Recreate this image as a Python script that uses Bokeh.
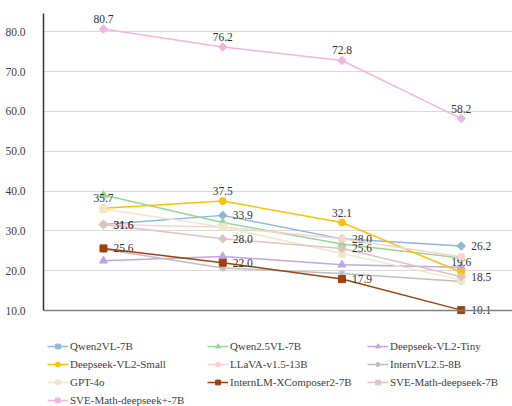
import numpy as np
from bokeh.plotting import figure
from bokeh.layouts import column
from bokeh.models import ColumnDataSource, Range1d, FixedTicker, Legend, LegendItem
from bokeh.core.properties import value
from bokeh.embed import file_html
from bokeh.resources import INLINE

categories = ["0.1", "0.3", "0.5", "0.8"]
y_ticks = [10, 20, 30, 40, 50, 60, 70, 80]

names = ["Qwen2VL-7B", "Qwen2.5VL-7B", "Deepseek-VL2-Tiny",
         "Deepseek-VL2-Small", "LLaVA-v1.5-13B", "InternVL2.5-8B",
         "GPT-4o", "InternLM-XComposer2-7B", "SVE-Math-deepseek-7B",
         "SVE-Math-deepseek+-7B"]

qwen2vl = [31.6, 33.9, 28.0, 26.2]
qwen25vl = [39.0, 32.1, 26.7, 23.2]
ds_tiny = [22.5, 23.6, 21.5, 20.9]
ds_small = [35.7, 37.5, 32.1, 19.6]
llava = [31.6, 31.0, 28.0, 23.5]
internvl = [25.4, 20.7, 19.3, 17.3]
gpt4o = [35.5, 31.0, 24.3, 17.7]
internlm = [25.6, 22.0, 17.9, 10.1]
sve7b = [31.6, 28.0, 25.6, 18.5]
sveplus = [80.7, 76.2, 72.8, 58.2]

values = [qwen2vl, qwen25vl, ds_tiny, ds_small, llava, internvl,
          gpt4o, internlm, sve7b, sveplus]
colors = ["#8DB8DE", "#98D698", "#C3A6E0", "#FFC000", "#F9D3CC",
          "#BFBFBF", "#EEE8CC", "#A0410D", "#DCC4C1", "#F2B5E0"]
markers = ["square", "triangle", "triangle", "circle", "circle",
           "asterisk", "square", "square", "square", "square"]
angles = [np.pi / 4, 0, 0, 0, 0, 0, 0, 0, np.pi / 4, np.pi / 4]
sizes = [6, 8, 8, 7, 7, 7, 7, 7, 6, 6]
label_pos = ["right", None, None, "above", None, None, None,
             "right", "right", "above"]

FONT = "Liberation Serif"
Y_MIN, Y_MAX = 10, 84.6

xs = list(range(len(categories)))

p = figure(width=512, height=340, output_backend="svg", toolbar_location=None,
           x_range=Range1d(-0.503, 3.43), y_range=Range1d(8.0, Y_MAX),
           min_border_left=43, min_border_right=0, min_border_top=13,
           min_border_bottom=22)
p.outline_line_color = None
p.background_fill_color = "white"

p.xgrid.grid_line_color = None
p.ygrid.grid_line_color = "#D9D9D9"
p.ygrid.grid_line_width = 1

p.yaxis.ticker = FixedTicker(ticks=y_ticks)
p.yaxis.major_label_overrides = {t: f"{t:.1f}" for t in y_ticks}
p.yaxis.bounds = (Y_MIN, Y_MAX)
p.yaxis.major_tick_line_color = None
p.yaxis.minor_tick_line_color = None
p.yaxis.major_label_standoff = 12
p.yaxis.axis_line_color = "#333333"
p.yaxis.axis_line_width = 1.5
p.yaxis.major_label_text_font = FONT
p.yaxis.major_label_text_font_size = "11.5px"
p.yaxis.major_label_text_color = "#404040"

p.xaxis.ticker = FixedTicker(ticks=xs)
p.xaxis.fixed_location = Y_MIN
p.xaxis.major_label_overrides = {i: c for i, c in enumerate(categories)}
p.xaxis.major_tick_line_color = None
p.xaxis.minor_tick_line_color = None
p.xaxis.major_label_standoff = 8
p.xaxis.axis_line_color = "#808080"
p.xaxis.axis_line_width = 1.5
p.xaxis.major_label_text_font = FONT
p.xaxis.major_label_text_font_size = "11.5px"
p.xaxis.major_label_text_color = "#404040"

# legend figure (same sources, kept outside its visible range)
lg = figure(width=512, height=66, output_backend="svg", toolbar_location=None,
            x_axis_type=None, y_axis_type=None,
            x_range=Range1d(0, 1), y_range=Range1d(0, 1),
            min_border=0)
lg.outline_line_color = None
lg.xgrid.grid_line_color = None
lg.ygrid.grid_line_color = None

items = []
for name, vals, col, mk, ang, sz, lp in zip(names, values, colors, markers,
                                            angles, sizes, label_pos):
    src = ColumnDataSource(dict(x=xs, y=vals, t=[f"{v:.1f}" for v in vals]))
    lw = 1.5 if mk == "asterisk" else 1
    p.line("x", "y", source=src, line_color=col, line_width=1.5)
    p.scatter("x", "y", source=src, marker=mk, size=sz, angle=ang,
              fill_color=col, line_color=col, line_width=lw)
    if lp == "above":
        p.text("x", "y", text="t", source=src, text_align="center",
               text_baseline="bottom", y_offset=-6,
               text_font=value(FONT), text_font_size="11.5px",
               text_color="#333333")
    elif lp == "right":
        p.text("x", "y", text="t", source=src, text_align="left",
               text_baseline="middle", x_offset=10,
               text_font=value(FONT), text_font_size="11.5px",
               text_color="#333333")
    l2 = lg.line("x", "y", source=src, line_color=col, line_width=1.5)
    s2 = lg.scatter("x", "y", source=src, marker=mk, size=sz, angle=ang,
                    fill_color=col, line_color=col, line_width=lw)
    items.append(LegendItem(label=name, renderers=[l2, s2]))

legend = Legend(items=items, ncols=3, orientation="horizontal",
                location=(4, 0), margin=0, padding=0, spacing=6,
                glyph_width=21, glyph_height=12, label_height=12,
                label_width=131, label_standoff=2,
                label_text_font=FONT, label_text_font_size="11px",
                label_text_color="#404040",
                border_line_color=None, background_fill_alpha=0)
lg.add_layout(legend, "center")

layout = column(p, lg, spacing=0)
open("out.html", "w").write(file_html(layout, INLINE))
